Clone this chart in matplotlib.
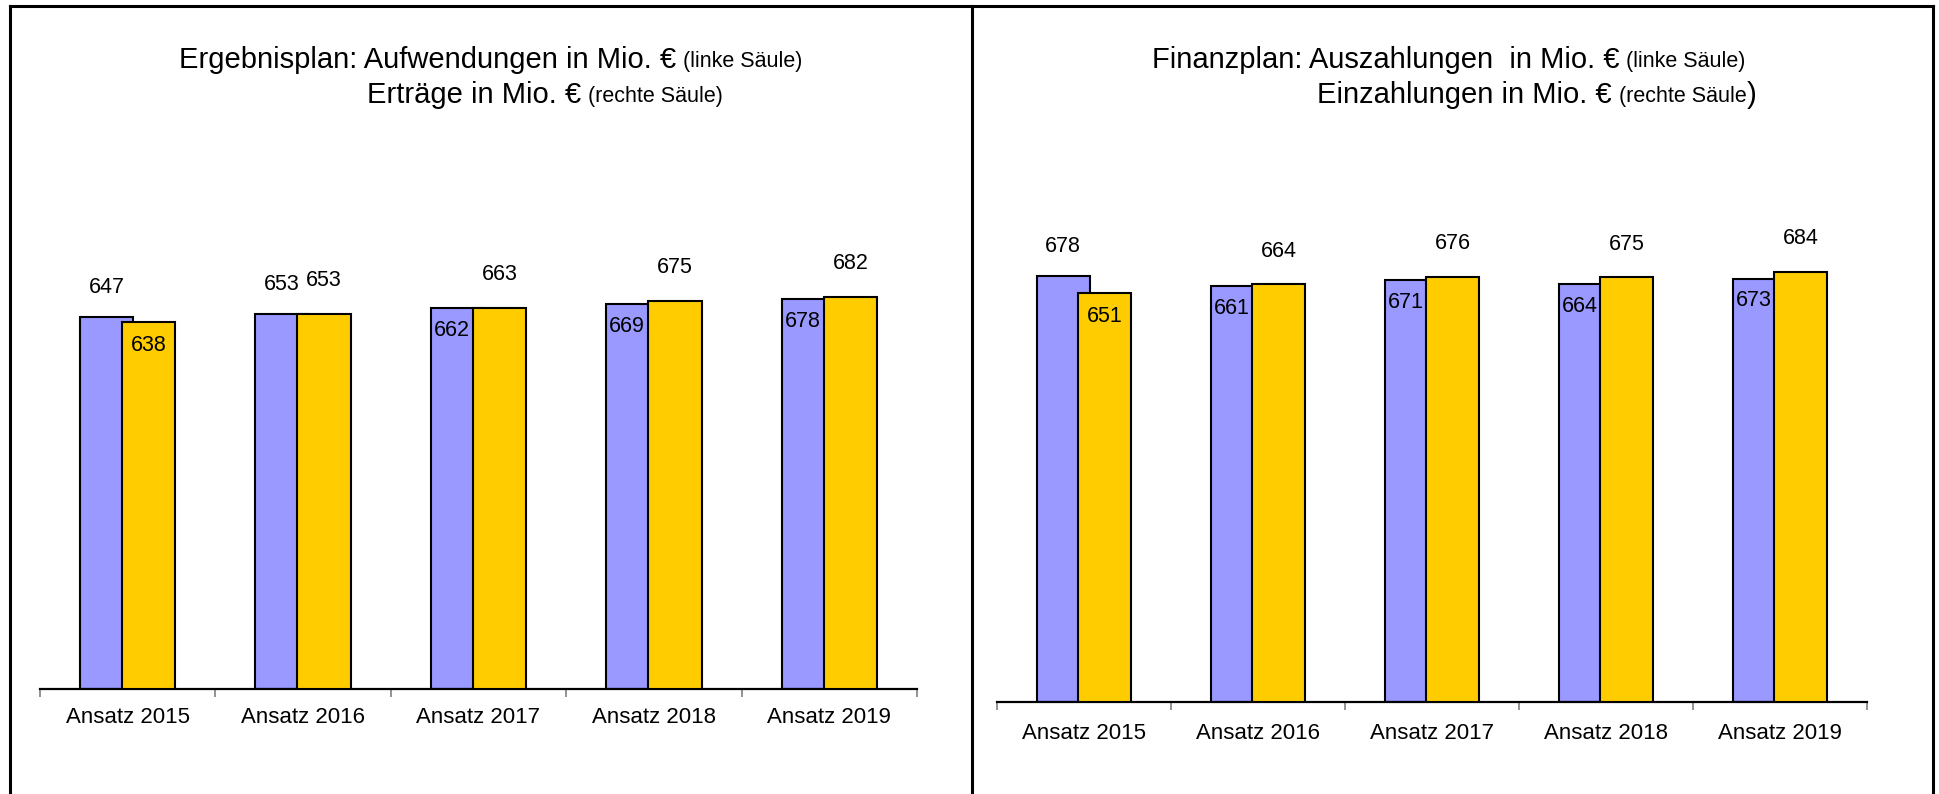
import matplotlib
matplotlib.use('Agg')
import matplotlib.pyplot as plt
from matplotlib.lines import Line2D
from matplotlib.text import Annotation

plt.rcParams['font.family'] = ['Liberation Sans', 'DejaVu Sans']

# data
categories = ['Ansatz 2015', 'Ansatz 2016', 'Ansatz 2017', 'Ansatz 2018', 'Ansatz 2019']
aufwendungen = [647, 653, 662, 669, 678]   # Ergebnisplan, linke Saeule
ertraege = [638, 653, 663, 675, 682]       # Ergebnisplan, rechte Saeule
auszahlungen = [678, 661, 671, 664, 673]   # Finanzplan, linke Saeule
einzahlungen = [651, 664, 676, 675, 684]   # Finanzplan, rechte Saeule

BLUE = '#9999FF'
YELLOW = '#FFCC00'
BIG, SMALL = 21, 15.5
VAL_FS = 15.5

W, H = 1939, 794
fig = plt.figure(figsize=(W / 100, H / 100), dpi=100)


def px_axes(x0, x1, y_base, px_per_unit, ymax=1000):
    # axes placed in pixel coords (y measured from top of image)
    h = px_per_unit * ymax
    return fig.add_axes([x0 / W, 1 - y_base / H, (x1 - x0) / W, h / H])


def draw_panel(ax, left_vals, right_vals, label_pad):
    n = len(categories)
    x = list(range(n))
    off, bw = 0.12, 0.305
    ax.bar([i - off for i in x], left_vals, width=bw, color=BLUE,
           edgecolor='black', linewidth=1.5, zorder=2)
    ax.bar([i + off for i in x], right_vals, width=bw, color=YELLOW,
           edgecolor='black', linewidth=1.5, zorder=3)
    ax.set_xlim(-0.5, n - 0.5)
    ax.set_ylim(0, 1000)
    for s in ['top', 'right', 'left']:
        ax.spines[s].set_visible(False)
    ax.spines['bottom'].set_linewidth(1.6)
    ax.set_yticks([])
    ax.set_xticks(x)
    ax.set_xticklabels(categories, fontsize=16)
    ax.tick_params(axis='x', which='major', length=0, pad=label_pad)
    ax.set_xticks([i - 0.5 for i in range(n + 1)], minor=True)
    ax.tick_params(axis='x', which='minor', length=6, width=1.2,
                   color='#808080', direction='out')

    # value labels: taller bar gets its label above, the smaller one inside
    for i in x:
        lv, rv = left_vals[i], right_vals[i]
        if lv >= rv:
            ax.annotate(str(lv), (i - off, lv), xytext=(0, 21), textcoords='offset points',
                        ha='center', va='center', fontsize=VAL_FS)
        else:
            # centre on the visible part of the blue bar
            ax.annotate(str(lv), (i - off - bw / 2 + off, lv), xytext=(0, -16),
                        textcoords='offset points', ha='center', va='center',
                        fontsize=VAL_FS, zorder=5)
        if rv >= lv:
            ax.annotate(str(rv), (i + off, rv), xytext=(0, 24), textcoords='offset points',
                        ha='center', va='center', fontsize=VAL_FS)
        else:
            ax.annotate(str(rv), (i + off, rv), xytext=(0, -17), textcoords='offset points',
                        ha='center', va='center', fontsize=VAL_FS, zorder=5)


def place_line(x_px, y_px, pieces):
    # pieces: (text, fontsize) put one after another on a shared baseline
    t = fig.text(x_px / W, 1 - y_px / H, pieces[0][0], fontsize=pieces[0][1],
                 ha='left', va='baseline')
    prev, prev_fs = t, pieces[0][1]
    for txt, fs in pieces[1:]:
        gap = 5 if txt.startswith('(') else 0
        dy = 0.21 * (prev_fs - fs)
        ann = Annotation(txt, xy=(1, 0), xycoords=prev, xytext=(gap, dy),
                         textcoords='offset points', ha='left', va='bottom',
                         fontsize=fs, annotation_clip=False)
        fig.add_artist(ann)
        prev, prev_fs = ann, fs


# panel frames
fig.add_artist(Line2D([10 / W, 1933 / W], [1 - 6 / H, 1 - 6 / H], color='black', lw=2.2))
for xp in [10, 972, 1933]:
    fig.add_artist(Line2D([xp / W, xp / W], [1 - 6 / H, 0], color='black', lw=2.2))

ax1 = px_axes(40, 917, 689, 0.575)
draw_panel(ax1, aufwendungen, ertraege, 13)

ax2 = px_axes(997, 1867, 702, 0.629)
draw_panel(ax2, auszahlungen, einzahlungen, 15)

place_line(179, 68, [('Ergebnisplan: Aufwendungen in Mio. \u20ac', BIG), ('(linke S\u00e4ule)', SMALL)])
place_line(367, 103, [('Ertr\u00e4ge in Mio. \u20ac', BIG), ('(rechte S\u00e4ule)', SMALL)])
place_line(1152, 68, [('Finanzplan: Auszahlungen  in Mio. \u20ac', BIG), ('(linke S\u00e4ule)', SMALL)])
place_line(1317, 103, [('Einzahlungen in Mio. \u20ac', BIG), ('(rechte S\u00e4ule', SMALL), (')', BIG)])

fig.savefig('out.png', dpi=100)
